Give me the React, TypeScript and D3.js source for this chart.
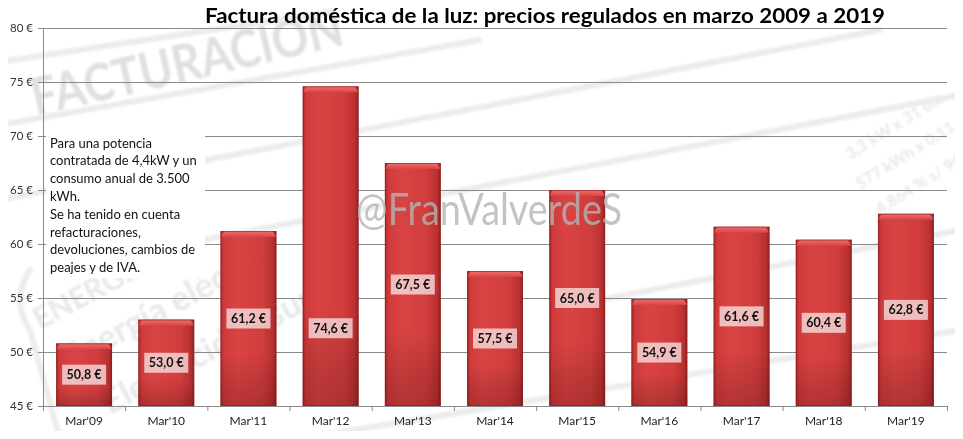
import React from "react";
import * as d3 from "d3";

// data
const categories = ["Mar'09", "Mar'10", "Mar'11", "Mar'12", "Mar'13", "Mar'14", "Mar'15", "Mar'16", "Mar'17", "Mar'18", "Mar'19"];
const prices = [50.8, 53.0, 61.2, 74.6, 67.5, 57.5, 65.0, 54.9, 61.6, 60.4, 62.8];
const yTicks = [45, 50, 55, 60, 65, 70, 75, 80];
const title = "Factura doméstica de la luz: precios regulados en marzo 2009 a 2019";
const noteLines = [
  "Para una potencia",
  "contratada de 4,4kW  y un",
  "consumo anual de 3.500",
  "kWh.",
  "Se ha tenido en cuenta",
  "refacturaciones,",
  "devoluciones, cambios de",
  "peajes y  de IVA.",
];

// the Mar'12 label was dragged down in the original, not centred
const labelOverride: Record<string, number> = { "Mar'12": 52.2 };

const W = 963;
const H = 439;
const font = "Lato, 'Open Sans', sans-serif";

export default function App() {
  const x = d3.scaleBand<string>()
    .domain(categories)
    .range([43, 947])
    .paddingInner(0.32)
    .paddingOuter(0.16);

  const y = d3.scaleLinear().domain([45, 80]).range([406, 28]);

  const fmt = (v: number) => d3.format(".1f")(v).replace(".", ",") + " €";
  const step = x.step();
  const x0 = x.range()[0];
  const x1 = x.range()[1];

  return (
    <div style={{ margin: -8 }}>
      <svg width={W} height={H} style={{ display: "block", background: "#fff" }}>
        <defs>
          <linearGradient id="barH" x1="0" x2="1" y1="0" y2="0">
            <stop offset="0" stopColor="#a82626" />
            <stop offset="0.06" stopColor="#cf3b3b" />
            <stop offset="0.3" stopColor="#d94343" />
            <stop offset="0.75" stopColor="#d03d3d" />
            <stop offset="0.94" stopColor="#b93030" />
            <stop offset="1" stopColor="#8e1f1f" />
          </linearGradient>
          <linearGradient id="barV" x1="0" x2="0" y1="0" y2="1">
            <stop offset="0" stopColor="#000" stopOpacity="0" />
            <stop offset="0.7" stopColor="#000" stopOpacity="0" />
            <stop offset="1" stopColor="#300" stopOpacity="0.22" />
          </linearGradient>
          <linearGradient id="bevel" x1="0" x2="0" y1="0" y2="1">
            <stop offset="0" stopColor="#f07070" />
            <stop offset="1" stopColor="#d94444" />
          </linearGradient>
          <filter id="blur" x="-10%" y="-10%" width="120%" height="120%">
            <feGaussianBlur stdDeviation="1.2" />
          </filter>
        </defs>

        {/* faded background picture */}
        <g fill="#e0e0e0" fontFamily={font} fontWeight="bold" filter="url(#blur)">
          <text x={36} y={116} fontSize={52} textLength={318} lengthAdjust="spacingAndGlyphs"
            transform="rotate(-13 36 116)">FACTURACION</text>
        </g>
        <g fill="#e8e8e8" fontFamily={font} fontWeight="bold" filter="url(#blur)">
          <text x={40} y={330} fontSize={30} transform="rotate(-28 40 330)">ENERGÍA</text>
          <text x={70} y={370} fontSize={34} transform="rotate(-28 70 370)">Energía eléct</text>
          <text x={110} y={415} fontSize={34} transform="rotate(-28 110 415)">Electricidad sum</text>
          <text x={850} y={160} fontSize={16} transform="rotate(-32 850 160)">3,3 kW x 31 día</text>
          <text x={860} y={190} fontSize={16} transform="rotate(-32 860 190)">577 kWh x 0,11</text>
          <text x={880} y={215} fontSize={16} transform="rotate(-32 880 215)">4,864 % s/ 96</text>
        </g>
        <g stroke="#ececec" strokeWidth={6} fill="none" strokeLinecap="round" filter="url(#blur)">
          <path d="M0,62 L330,12" />
          <path d="M0,125 L480,40" />
          <path d="M0,200 L880,30" />
          <path d="M150,250 L960,95" />
          <path d="M600,300 L960,230" />
          <path d="M30,270 Q10,300 30,330 L60,439" />
          <path d="M300,439 L960,330" />
        </g>

        {/* title */}
        <text x={545} y={23} textAnchor="middle" fontFamily={font} fontWeight="bold" fontSize={20}
          textLength={680} lengthAdjust="spacingAndGlyphs" fill="#000">{title}</text>

        {/* grid and y axis */}
        {yTicks.map((t) => (
          <g key={t}>
            {t > 45 && <line x1={x0} x2={x1} y1={y(t) + 0.5} y2={y(t) + 0.5} stroke="#8a8a8a" />}
            <line x1={38} x2={x0} y1={y(t) + 0.5} y2={y(t) + 0.5} stroke="#8a8a8a" />
            <text x={33} y={y(t) + 4} textAnchor="end" fontFamily={font} fontSize={11.5} fill="#333">{t} €</text>
          </g>
        ))}
        <line x1={x0 + 0.5} x2={x0 + 0.5} y1={y(80)} y2={y(45)} stroke="#8a8a8a" />

        {/* note */}
        <rect x={46} y={132} width={159} height={146} fill="#fff" />
        <text fontFamily={font} fontSize={13} fill="#111">
          {noteLines.map((l, i) => (
            <tspan key={i} x={50} y={147.5 + i * 17.8}>{l}</tspan>
          ))}
        </text>

        {/* bars */}
        {categories.map((c, i) => {
          const bx = x(c)!;
          const bw = x.bandwidth();
          const top = y(prices[i]);
          const bottom = y(45);
          return (
            <g key={c}>
              <rect x={bx} y={top} width={bw} height={bottom - top} fill="url(#barH)" />
              <rect x={bx} y={top} width={bw} height={bottom - top} fill="url(#barV)" />
              <path d={`M${bx},${top + 6} L${bx + 4},${top} L${bx + bw - 4},${top} L${bx + bw},${top + 6} Z`} fill="url(#bevel)" />
              <rect x={bx + 0.5} y={top + 0.5} width={bw - 1} height={bottom - top - 1} fill="none" stroke="#8e2020" strokeOpacity={0.6} />
            </g>
          );
        })}

        {/* author watermark */}
        <text x={489} y={225} textAnchor="middle" fontFamily={font} fontSize={44} fill="#b4b4b4" fillOpacity={0.8}
          textLength={266} lengthAdjust="spacingAndGlyphs">@FranValverdeS</text>

        {/* value labels */}
        {categories.map((c, i) => {
          const cx = x(c)! + x.bandwidth() / 2;
          const cy = labelOverride[c] !== undefined ? y(labelOverride[c]) : (y(prices[i]) + y(45)) / 2;
          return (
            <g key={c + "-l"}>
              <rect x={cx - 22} y={cy - 10} width={44} height={20} fill="#fff" fillOpacity={0.66} />
              <text x={cx} y={cy + 4.5} textAnchor="middle" fontFamily={font} fontWeight="bold" fontSize={12.5} fill="#111">{fmt(prices[i])}</text>
            </g>
          );
        })}

        {/* x axis */}
        <line x1={x0} x2={x1} y1={y(45) + 0.5} y2={y(45) + 0.5} stroke="#8a8a8a" />
        {d3.range(categories.length + 1).map((k) => (
          <line key={k} x1={x0 + k * step + 0.5} x2={x0 + k * step + 0.5} y1={y(45)} y2={y(45) + 5} stroke="#8a8a8a" />
        ))}
        {categories.map((c) => (
          <text key={c + "-x"} x={x(c)! + x.bandwidth() / 2} y={425} textAnchor="middle" fontFamily={font} fontSize={12} fill="#222">{c}</text>
        ))}
      </svg>
    </div>
  );
}
